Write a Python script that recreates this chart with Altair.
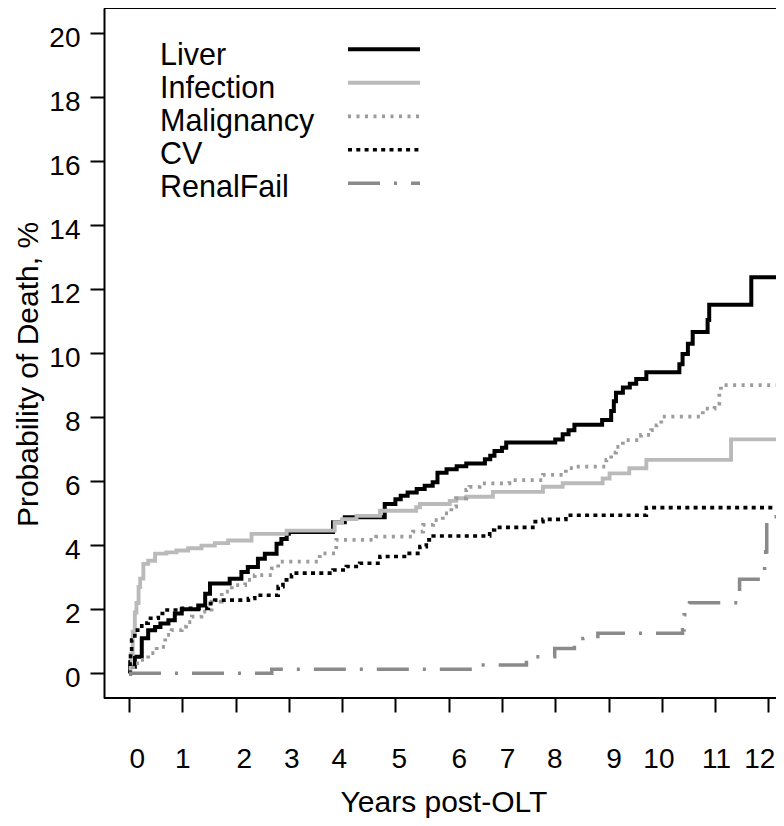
import altair as alt
import pandas as pd

series_names = ["Liver", "Infection", "Malignancy", "CV", "RenalFail"]

liver_x = [0, 0.02, 0.11, 0.24, 0.36, 0.49, 0.59, 0.74, 0.86, 0.99, 1.3, 1.43, 1.52, 1.89, 2.11, 2.23,
           2.42, 2.55, 2.77, 2.86, 2.96, 3.0, 3.83, 4.05, 4.8, 5.0, 5.1, 5.23, 5.4, 5.55, 5.7, 5.79,
           5.96, 6.15, 6.33, 6.68, 6.78, 6.86, 7.0, 7.08, 8.0, 8.14, 8.25, 8.36, 8.88, 9.05, 9.1,
           9.14, 9.27, 9.4, 9.52, 9.71, 10.33, 10.39, 10.49, 10.58, 10.86, 10.89, 11.68, 12.4]
liver_y = [0, 0.21, 0.52, 1.1, 1.35, 1.45, 1.56, 1.66, 1.87, 2.0, 2.12, 2.49, 2.81, 2.96, 3.17, 3.32,
           3.58, 3.74, 4.05, 4.2, 4.36, 4.42, 4.72, 4.88, 5.29, 5.44, 5.55, 5.65, 5.76, 5.86, 5.97, 6.27,
           6.38, 6.47, 6.56, 6.69, 6.8, 6.95, 7.05, 7.21, 7.31, 7.47, 7.6, 7.77, 7.92, 8.2, 8.5,
           8.77, 8.93, 9.05, 9.2, 9.41, 9.66, 9.98, 10.3, 10.67, 11.04, 11.52, 12.38, 12.38]

infection_x = [0, 0.03, 0.07, 0.11, 0.14, 0.18, 0.21, 0.27, 0.36, 0.49, 0.7, 0.89, 1.11, 1.36, 1.61,
               1.86, 2.3, 2.96, 3.86, 4.0, 4.27, 4.71, 5.39, 5.46, 6.02, 6.14, 6.33, 6.83, 7.77, 8.14,
               8.89, 9.02, 9.39, 9.71, 11.3, 12.4]
infection_y = [0, 0.6, 1.3, 1.9, 2.2, 2.7, 2.96, 3.42, 3.52, 3.74, 3.78, 3.84, 3.91, 3.99, 4.07,
               4.15, 4.36, 4.46, 4.72, 4.82, 4.92, 5.08, 5.19, 5.29, 5.39, 5.47, 5.52, 5.67, 5.83, 5.94,
               6.09, 6.25, 6.41, 6.67, 7.31, 7.31]

malignancy_x = [0, 0.08, 0.2, 0.36, 0.52, 0.68, 0.8, 0.99, 1.07, 1.18, 1.36, 1.55, 1.74, 1.93, 2.18,
                2.36, 2.68, 2.8, 3.58, 3.89, 4.64, 5.33, 5.52, 5.71, 5.89, 6.05, 6.14, 6.33, 6.39, 6.58,
                7.14, 7.77, 8.2, 8.39, 8.96, 9.05, 9.14, 9.27, 9.61, 9.8, 9.9, 9.99, 10.77, 10.99, 11.08,
                11.11, 12.4]
malignancy_y = [0, 0.31, 0.42, 0.63, 0.83, 1.2, 1.35, 1.46, 1.6, 1.77, 1.93, 2.24, 2.55, 2.76, 2.92,
                3.07, 3.28, 3.49, 3.75, 4.17, 4.27, 4.43, 4.64, 4.79, 5.0, 5.21, 5.47, 5.73, 5.83, 5.94,
                6.04, 6.2, 6.41, 6.46, 6.67, 6.9, 7.08, 7.29, 7.45, 7.6, 7.75, 8.02, 8.27, 8.43, 8.75,
                9.01, 9.01]

cv_x = [0, 0.02, 0.03, 0.05, 0.11, 0.24, 0.36, 0.55, 0.68, 1.0, 1.49, 1.61, 2.24, 2.36, 2.8, 2.89,
        3.05, 3.14, 3.83, 4.08, 4.33, 4.71, 5.21, 5.46, 5.58, 5.71, 6.77, 6.86, 7.58, 7.77, 8.2, 9.71, 12.4]
cv_y = [0, 0.35, 0.6, 1.04, 1.35, 1.57, 1.72, 1.87, 1.98, 2.03, 2.18, 2.29, 2.34, 2.44, 2.71, 2.92,
        3.07, 3.13, 3.23, 3.34, 3.44, 3.65, 3.75, 3.96, 4.17, 4.29, 4.48, 4.56, 4.74, 4.81, 4.94, 5.18, 5.18]

renal_x = [0, 2.68, 6.6, 7.46, 7.99, 8.36, 8.52, 8.8, 10.39, 10.42, 10.52, 11.46, 11.93, 11.95, 11.97, 12.4]
renal_y = [0, 0.13, 0.26, 0.52, 0.78, 0.94, 1.09, 1.25, 1.36, 1.83, 2.21, 2.94, 3.34, 3.8, 4.89, 4.89]

x_ticks = list(range(13))
y_ticks = list(range(0, 21, 2))

all_x = [liver_x, infection_x, malignancy_x, cv_x, renal_x]
all_y = [liver_y, infection_y, malignancy_y, cv_y, renal_y]
rows = []
for name, xs, ys in zip(series_names, all_x, all_y):
    for i, (xv, yv) in enumerate(zip(xs, ys)):
        rows.append({"series": name, "years": xv, "prob": yv, "idx": i})
df = pd.DataFrame(rows)
legend_df = pd.DataFrame({"series": series_names, "row": list(range(len(series_names)))})

FONT = "Liberation Sans"
colors = ["#000000", "#bababa", "#9c9c9c", "#000000", "#8a8a8a"]
dashes = [[1, 0], [1, 0], [3, 5.5], [4, 4.3], [32, 14, 3, 14]]
widths = [4, 3.5, 3, 4, 3.5]

color_enc = alt.Color("series:N", scale=alt.Scale(domain=series_names, range=colors), legend=None)
dash_enc = alt.StrokeDash("series:N", scale=alt.Scale(domain=series_names, range=dashes), legend=None)
width_enc = alt.StrokeWidth("series:N", scale=alt.Scale(domain=series_names, range=widths), legend=None)

W, H = 672, 690
x_scale = alt.Scale(domain=[-0.469, -0.469 + W / 53.28], nice=False, zero=False)
y_scale = alt.Scale(domain=[-0.77, 20.79], nice=False, zero=False)

label_offsets = [7.7, 0, 8.3, 2.4, -3.4, 3.3, 10, 5, -1, 5, -3.4, 1, -9]
x_label_offset = {
    "condition": [{"test": f"datum.value == {v}", "value": o} for v, o in zip(x_ticks, label_offsets)],
    "value": 0,
}

x_axis = alt.Axis(values=x_ticks, domain=False, grid=False, tickSize=14, tickWidth=2, tickColor="black",
                  labelFont=FONT, labelFontSize=28, labelColor="black", labelBaseline="alphabetic",
                  labelPadding=55, labelFlush=False, labelOverlap=False, labelOffset=x_label_offset,
                  title="Years post-OLT", titleFont=FONT, titleFontSize=30, titleFontWeight="normal",
                  titleColor="black", titleX=339.4, titleY=113, titleBaseline="alphabetic", titleAlign="center")
y_axis = alt.Axis(values=y_ticks, domain=True, domainColor="black", domainWidth=2, grid=False,
                  tickSize=14, tickWidth=2, tickColor="black",
                  labelFont=FONT, labelFontSize=28, labelColor="black", labelBaseline="alphabetic",
                  labelOffset=13, labelPadding=10, labelFlush=False, labelOverlap=False,
                  title="Probability of Death, %", titleFont=FONT, titleFontSize=30, titleFontWeight="normal",
                  titleColor="black", titleX=-67, titleY=366, titleAngle=270, titleBaseline="alphabetic",
                  titleAlign="center")

lines = alt.Chart(df).mark_line(interpolate="step-after", clip=True, strokeCap="butt").encode(
    x=alt.X("years:Q", scale=x_scale, axis=x_axis),
    y=alt.Y("prob:Q", scale=y_scale, axis=y_axis),
    order="idx:Q",
    color=color_enc,
    strokeDash=dash_enc,
    strokeWidth=width_enc,
)

frame_top = alt.Chart(legend_df).mark_rule(color="black", strokeWidth=2).encode(
    x=alt.value(0), x2=alt.value(W), y=alt.value(0))
frame_bottom = alt.Chart(legend_df).mark_rule(color="black", strokeWidth=2).encode(
    x=alt.value(0), x2=alt.value(W), y=alt.value(H))

legend_text = alt.Chart(legend_df).transform_calculate(ly="57 + 33 * datum.row").mark_text(
    align="left", baseline="alphabetic", font=FONT, fontSize=30.5, color="black").encode(
    x=alt.value(56), y=alt.Y("ly:Q", scale=None, axis=None), text="series:N")

legend_lines = alt.Chart(legend_df).transform_calculate(ry="41.3 + 33.5 * datum.row").mark_rule(
    strokeCap="butt").encode(
    x=alt.value(244), x2=alt.value(316), y=alt.Y("ry:Q", scale=None, axis=None),
    color=color_enc, strokeDash=dash_enc, strokeWidth=width_enc)

chart = alt.layer(lines, frame_top, frame_bottom, legend_text, legend_lines).properties(
    width=W, height=H,
    autosize=alt.AutoSizeParams(type="none"),
    padding={"left": 96, "top": 0, "right": 0, "bottom": 120},
).configure_view(stroke=None).configure(background="white")

chart.save("out.html", embed_options={"renderer": "svg", "actions": False})
